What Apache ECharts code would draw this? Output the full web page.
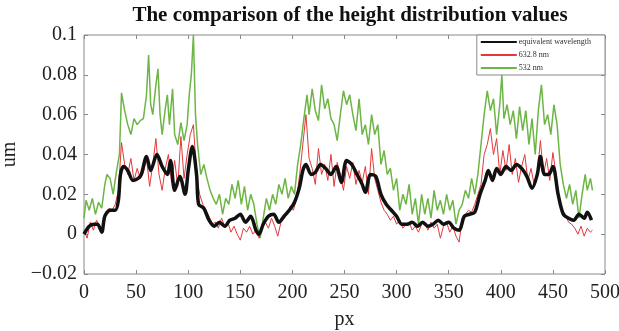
<!DOCTYPE html>
<html>
<head>
<meta charset="utf-8">
<script src="https://cdn.jsdelivr.net/npm/echarts@6/dist/echarts.min.js"></script>
<style>
  html, body { margin: 0; padding: 0; background: #fff; }
  #chart { width: 619px; height: 331px; }
</style>
</head>
<body>
<div id="chart"></div>
<script>
// Equivalent wavelength (black, smooth)
const eqX = [0,5,10,13,17,20,25,30,33,35,38,42,47,52,55,60,64,70,75,80,83,87,92,97,100,104,108,110,115,120,125,130,135,140,145,150,155,160,165,168,172,177,182,187,192,197,202,207,210,213,218,222,227,232,237,242,247,252,257,262,267,270,275,280,285,290,295,300,305,310,315,320,325,330,335,340,345,350,355,360,365,370,375,380,385,388,392,396,400,405,410,415,420,425,430,435,438,442,446,450,455,460,465,470,475,480,483,487];
const eqY = [0.000,0.004,0.005,0.005,0.001,0.009,0.012,0.012,0.017,0.030,0.034,0.032,0.027,0.028,0.030,0.039,0.032,0.040,0.034,0.030,0.037,0.022,0.029,0.020,0.032,0.044,0.030,0.015,0.013,0.007,0.004,0.006,0.004,0.007,0.008,0.010,0.006,0.009,0.002,0.000,0.005,0.009,0.010,0.006,0.009,0.012,0.016,0.024,0.032,0.035,0.030,0.031,0.035,0.033,0.030,0.034,0.026,0.037,0.035,0.030,0.025,0.021,0.030,0.029,0.020,0.015,0.012,0.009,0.005,0.005,0.006,0.004,0.006,0.004,0.005,0.007,0.005,0.006,0.003,0.002,0.009,0.010,0.011,0.020,0.027,0.032,0.027,0.033,0.030,0.034,0.032,0.035,0.033,0.029,0.023,0.030,0.039,0.030,0.030,0.034,0.020,0.010,0.008,0.007,0.010,0.008,0.011,0.007];

// 632.8 nm (red)
const redX = [0,3,6,9,12,15,18,21,24,27,30,33,36,39,42,45,48,51,54,57,60,63,66,69,72,75,78,81,84,87,90,93,96,99,102,105,108,111,114,117,120,123,126,129,132,135,138,141,144,147,150,153,156,159,162,165,168,171,174,177,180,183,186,189,192,195,198,201,204,207,210,213,216,219,222,225,228,231,234,237,240,243,246,249,252,255,258,261,264,267,270,273,276,279,282,285,288,291,294,297,300,303,306,309,312,315,318,321,324,327,330,333,336,339,342,345,348,351,354,357,360,363,366,369,372,375,378,381,384,387,390,393,396,399,402,405,408,411,414,417,420,423,426,429,432,435,438,441,444,447,450,453,456,459,462,465,468,471,474,477,480,483,486,488];
const redY = [0.002,-0.002,0.006,0.002,0.007,0.004,0.001,0.011,0.013,0.012,0.015,0.022,0.046,0.035,0.030,0.038,0.027,0.033,0.028,0.031,0.038,0.024,0.035,0.048,0.030,0.022,0.033,0.040,0.026,0.037,0.024,0.049,0.028,0.040,0.050,0.055,0.030,0.020,0.015,0.012,0.009,0.005,0.006,0.003,0.008,0.004,0.006,0.001,0.004,0.000,-0.003,0.003,0.001,0.004,0.000,0.002,-0.002,0.004,0.006,0.003,0.008,0.004,-0.001,0.006,0.008,0.010,0.014,0.012,0.018,0.030,0.045,0.060,0.038,0.033,0.025,0.043,0.030,0.035,0.027,0.040,0.024,0.036,0.030,0.022,0.034,0.028,0.036,0.025,0.032,0.026,0.034,0.020,0.043,0.028,0.022,0.016,0.012,0.010,0.007,0.009,0.005,0.007,0.003,0.005,0.006,0.002,0.004,0.001,0.005,0.006,0.002,0.006,0.003,0.005,-0.002,0.004,0.006,0.001,0.004,-0.001,-0.004,0.008,0.010,0.012,0.011,0.015,0.020,0.025,0.040,0.045,0.053,0.040,0.048,0.030,0.042,0.032,0.045,0.030,0.038,0.026,0.034,0.040,0.027,0.033,0.025,0.030,0.047,0.030,0.038,0.027,0.041,0.030,0.018,0.012,0.010,0.006,0.005,0.003,0.000,0.004,-0.001,0.003,0.001,0.002];

// 532 nm (green)
const greenX = [0,2,5,8,11,14,17,20,22,25,28,31,34,36,39,42,45,48,51,54,57,60,62,64,66,69,71,73,75,78,80,82,85,87,90,93,96,99,101,103,105,107,109,112,115,118,121,124,127,130,133,136,139,142,145,148,151,154,157,160,163,166,169,172,175,178,181,184,187,190,193,196,199,202,205,208,211,214,216,219,222,225,228,231,234,237,240,243,246,249,252,255,258,261,264,267,270,273,276,279,282,285,288,291,294,297,300,303,306,309,312,315,318,321,324,327,330,333,336,339,342,345,348,351,354,357,360,363,366,369,372,375,378,381,384,387,390,393,396,399,401,403,406,409,412,415,418,421,424,427,430,433,436,439,442,445,448,451,454,457,460,463,466,469,472,475,478,481,483,486,488];
const greenY = [0.008,0.017,0.012,0.018,0.010,0.016,0.013,0.025,0.030,0.028,0.020,0.031,0.040,0.071,0.062,0.055,0.050,0.058,0.055,0.057,0.058,0.070,0.090,0.065,0.060,0.075,0.083,0.060,0.050,0.063,0.070,0.055,0.073,0.050,0.045,0.056,0.047,0.055,0.070,0.080,0.100,0.060,0.045,0.030,0.035,0.028,0.022,0.018,0.015,0.020,0.010,0.018,0.015,0.025,0.018,0.027,0.015,0.024,0.012,0.020,0.015,0.005,-0.002,0.008,0.018,0.012,0.020,0.015,0.025,0.020,0.028,0.018,0.024,0.020,0.035,0.045,0.058,0.070,0.060,0.073,0.062,0.057,0.075,0.063,0.068,0.058,0.055,0.047,0.060,0.072,0.065,0.070,0.060,0.052,0.068,0.050,0.055,0.045,0.060,0.050,0.055,0.035,0.042,0.030,0.033,0.022,0.028,0.012,0.020,0.015,0.025,0.010,0.018,0.005,0.020,0.010,0.018,0.008,0.022,0.012,0.017,0.010,0.020,0.012,0.017,0.005,0.012,0.015,0.022,0.018,0.028,0.020,0.030,0.045,0.060,0.072,0.062,0.068,0.050,0.065,0.080,0.058,0.065,0.055,0.062,0.048,0.064,0.052,0.062,0.045,0.058,0.040,0.062,0.075,0.055,0.060,0.050,0.065,0.055,0.035,0.025,0.018,0.025,0.015,0.022,0.008,0.020,0.030,0.022,0.028,0.022];

const seriesNames = ['equivalent wavelength', '632.8 nm', '532 nm'];

function pairs(xs, ys) {
    return xs.map((x, i) => [x, ys[i]]);
}

function fmtY(v) {
    const n = parseFloat(v.toFixed(3));
    if (n === 0) return '0';
    return n < 0 ? '\u2212' + String(-n) : String(n);
}

const serif = '"Liberation Serif", "DejaVu Serif", serif';
const frame = '#8a8a8a';
const tick = { inside: true, length: 4, lineStyle: { color: frame } };

const chart = echarts.init(document.getElementById('chart'), null, { renderer: 'canvas' });

chart.setOption({
    animation: false,
    backgroundColor: '#fff',
    title: {
        text: 'The comparison of the height distribution values',
        left: 345,
        top: 0,
        textAlign: 'center',
        textStyle: { fontFamily: serif, fontWeight: 'bold', fontSize: 21, color: '#111' }
    },
    legend: {
        data: seriesNames,
        orient: 'vertical',
        right: 14,
        top: 35,
        itemWidth: 36,
        itemHeight: 8,
        itemGap: 5,
        padding: [3, 14, 3, 3],
        backgroundColor: '#fff',
        borderColor: frame,
        borderWidth: 1,
        itemStyle: { opacity: 0 },
        textStyle: { fontFamily: serif, fontSize: 8, color: '#333', padding: [0, 0, 0, -3] }
    },
    grid: {
        left: 84, right: 14, top: 35, bottom: 57,
        outerBoundsMode: 'none', containLabel: false,
        show: true, borderColor: frame, borderWidth: 1
    },
    xAxis: [{
        type: 'value',
        min: 0, max: 500, interval: 50,
        name: 'px', nameLocation: 'middle', nameGap: 36,
        nameTextStyle: { fontFamily: serif, fontSize: 20, color: '#222' },
        axisLine: { show: false, onZero: false },
        axisTick: tick,
        axisLabel: { fontFamily: serif, fontSize: 20, color: '#222', margin: 9 },
        splitLine: { show: false }
    }, {
        type: 'value', position: 'top',
        min: 0, max: 500, interval: 50,
        axisLine: { show: false, onZero: false },
        axisTick: tick,
        axisLabel: { show: false },
        splitLine: { show: false }
    }],
    yAxis: [{
        type: 'value',
        min: -0.02, max: 0.1, interval: 0.02,
        name: 'um', nameLocation: 'middle', nameGap: 54,
        nameTextStyle: { fontFamily: serif, fontSize: 20, color: '#222' },
        axisLine: { show: false, onZero: false },
        axisTick: tick,
        axisLabel: { fontFamily: serif, fontSize: 20, color: '#222', margin: 7, formatter: fmtY },
        splitLine: { show: false }
    }, {
        type: 'value', position: 'right',
        min: -0.02, max: 0.1, interval: 0.02,
        axisLine: { show: false, onZero: false },
        axisTick: tick,
        axisLabel: { show: false },
        splitLine: { show: false }
    }],
    series: [
        {
            name: seriesNames[2], type: 'line', symbol: 'none', z: 2,
            data: pairs(greenX, greenY),
            lineStyle: { color: '#6db544', width: 1.5 },
            itemStyle: { color: '#6db544' }
        },
        {
            name: seriesNames[1], type: 'line', symbol: 'none', z: 3,
            data: pairs(redX, redY),
            lineStyle: { color: '#e5383b', width: 1 },
            itemStyle: { color: '#e5383b' }
        },
        {
            name: seriesNames[0], type: 'line', symbol: 'none', z: 4, smooth: 0.3,
            data: pairs(eqX, eqY),
            lineStyle: { color: '#111', width: 3.5 },
            itemStyle: { color: '#111' }
        }
    ]
});
</script>
</body>
</html>
